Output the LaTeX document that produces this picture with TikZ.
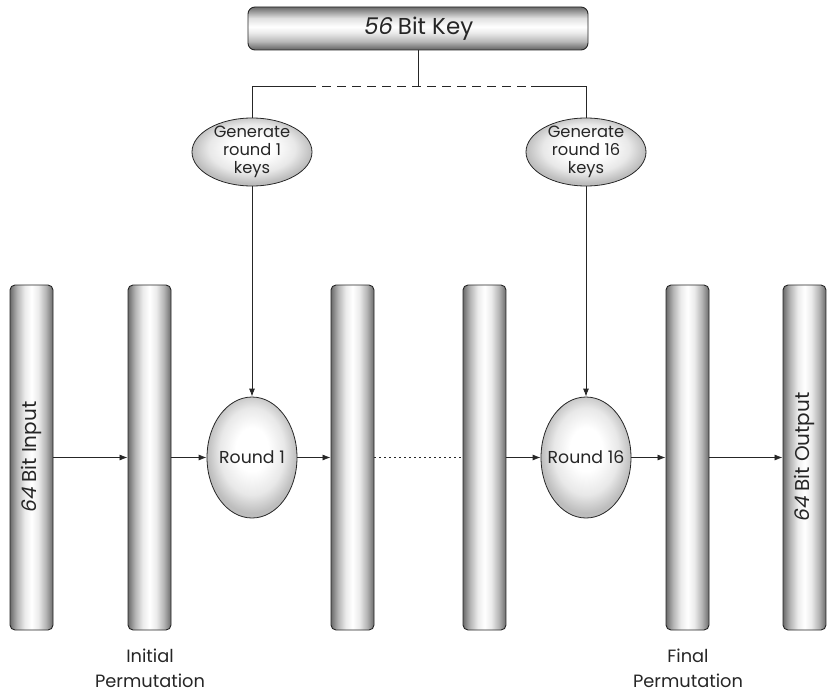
\documentclass[tikz,border=0pt]{standalone}
\usepackage{fontspec}
\setmainfont{Poppins}
\newfontfamily\slantfont[FakeSlant=0.2]{Poppins}
\usetikzlibrary{arrows.meta,shapes.geometric}

% metallic gradients for bars, key box and ellipses
\pgfdeclarehorizontalshading{barshade}{100bp}{
  color(0bp)=(black!58); color(25bp)=(black!58); color(33bp)=(black!30);
  color(42bp)=(black!8); color(50bp)=(white); color(58bp)=(black!8);
  color(67bp)=(black!30); color(75bp)=(black!58); color(100bp)=(black!58)}
\pgfdeclareverticalshading{keyshade}{100bp}{
  color(0bp)=(black!62); color(25bp)=(black!62); color(35bp)=(black!28);
  color(45bp)=(black!8); color(52bp)=(white); color(62bp)=(black!12);
  color(75bp)=(black!58); color(100bp)=(black!58)}
\pgfdeclareradialshading{ellshade}{\pgfpoint{0bp}{4bp}}{
  color(0bp)=(white); color(9bp)=(white); color(18bp)=(black!9);
  color(25bp)=(black!26); color(50bp)=(black!26)}

\newcommand{\num}[1]{{\slantfont #1}}

\tikzset{
  every node/.style={text=black!85},
  conn/.style={line width=0.8pt, draw=black!85},
  arr/.style={conn, -{Latex[length=8pt,width=6pt]}},
  bar/.style={draw=black!85, line width=0.9pt, rounded corners=5pt,
    minimum width=43pt, minimum height=345pt, inner sep=0pt,
    shading=barshade},
  keybox/.style={draw=black!85, line width=0.9pt, rounded corners=7pt,
    minimum width=340pt, minimum height=43pt, inner sep=0pt,
    shading=keyshade, font=\fontsize{23}{26}\selectfont},
  genell/.style={ellipse, draw=black!85, line width=0.8pt,
    minimum width=120pt, minimum height=68pt, inner xsep=-12pt, inner ysep=-4pt,
    shading=ellshade, align=center,
    font=\fontsize{16.3}{18}\selectfont},
  roundell/.style={ellipse, draw=black!85, line width=0.8pt,
    minimum width=90pt, minimum height=121pt, inner xsep=-20pt, inner ysep=0pt,
    shading=ellshade, font=\fontsize{17.3}{20}\selectfont},
  bartext/.style={rotate=90, font=\fontsize{20}{23}\selectfont},
  caption/.style={align=center, font=\fontsize{17.8}{25}\selectfont},
}

\begin{document}
\begin{tikzpicture}[x=1pt, y=-1pt]
  \useasboundingbox (0,0) rectangle (827,693);

  % key and key schedule
  \node[keybox] (key) at (418,28.5) {\num{56} Bit Key};
  \node[genell] (gen1) at (252,152) {Generate\\round 1\\keys};
  \node[genell] (gen16) at (586,152) {Generate\\round 16\\keys};

  \coordinate (jl) at (252,86);
  \coordinate (jr) at (586,86);
  \coordinate (dl) at (307,86);
  \coordinate (dr) at (531,86);

  \draw[conn] (key.south) -- (key.south |- jl);
  \draw[conn] (gen1.north) -- (jl) -- (dl);
  \draw[conn, dash pattern=on 9pt off 6pt] (dl) -- (dr);
  \draw[conn] (dr) -- (jr) -- (gen16.north);

  % data path
  \node[bar] (b1) at (31.5,457.5) {};
  \node[bar] (b2) at (149.5,457.5) {};
  \node[bar] (b3) at (352.5,457.5) {};
  \node[bar] (b4) at (484.5,457.5) {};
  \node[bar] (b5) at (687.5,457.5) {};
  \node[bar] (b6) at (804.5,457.5) {};

  \node[bartext] (intext) at (b1.center) {\num{64} Bit Input};
  \node[bartext] (outtext) at (b6.center) {\num{64} Bit Output};

  \node[roundell] (r1) at (252,457.5) {Round 1};
  \node[roundell] (r16) at (586,457.5) {Round 16};

  \draw[arr] (gen1.south) -- (r1.north);
  \draw[arr] (gen16.south) -- (r16.north);

  \draw[arr] (b1.east) -- (b2.west);
  \draw[arr] (b2.east) -- (r1.west);
  \draw[arr] (r1.east) -- (b3.west);
  \draw[conn, line width=1pt, dash pattern=on 1.6pt off 3.4pt] (b3.east) -- (b4.west);
  \draw[arr] (b4.east) -- (r16.west);
  \draw[arr] (r16.east) -- (b5.west);
  \draw[arr] (b5.east) -- (b6.west);

  % captions
  \node[caption] (ip) at (150,668) {Initial\\Permutation};
  \node[caption] (fp) at (688,668) {Final\\Permutation};
\end{tikzpicture}
\end{document}
